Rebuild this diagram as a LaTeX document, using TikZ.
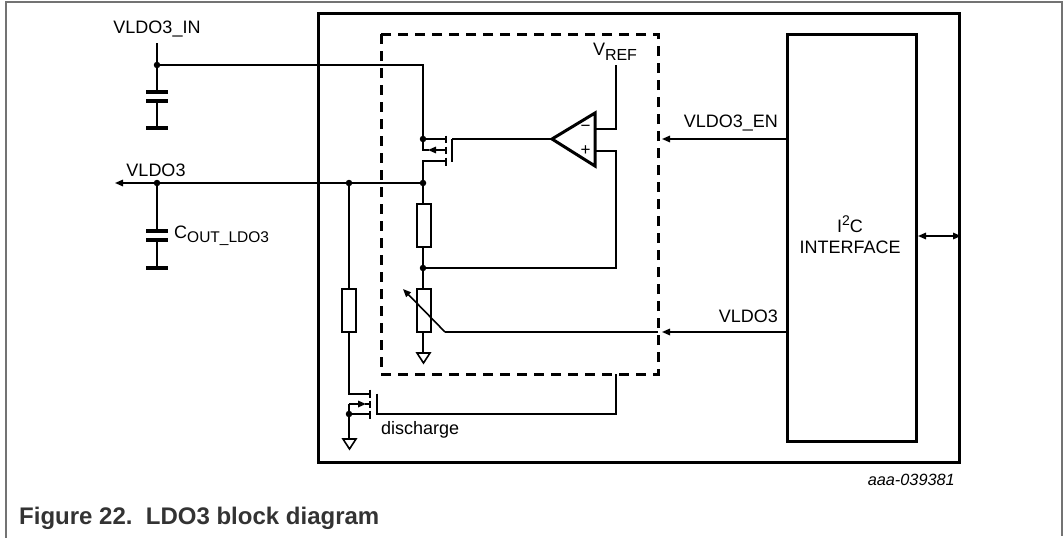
\documentclass[tikz,border=0pt]{standalone}
\usepackage{fontspec}
\setmainfont{Liberation Sans}
\usetikzlibrary{arrows.meta}
\begin{document}
\begin{tikzpicture}[x=1pt,y=-1pt,
  wire/.style={line width=1.6pt},
  tipw/.style={-{Triangle[length=8pt,width=6.5pt]}},
  plate/.style={line width=4pt},
  gbar/.style={line width=3.8pt},
  chip/.style={line width=3.5pt},
  blockbox/.style={line width=3pt},
  dashbox/.style={line width=3pt,dash pattern=on 10pt off 7pt},
  lbl/.style={font=\fontsize{18}{20}\selectfont,inner sep=0pt},
  dot/.style={circle,fill=black,inner sep=0pt,minimum size=6.5pt},
  gnd/.style={line width=1.6pt}
]
\useasboundingbox (0,0) rectangle (1063,538);
% outer page frame
\draw[line width=1.5pt,black!55] (6,538) -- (6,2) -- (1062,2) -- (1062,536);

% chip box and blocks
\node[chip,draw,minimum width=641pt,minimum height=449pt,anchor=north west,inner sep=0pt] (chipbox) at (316.5,11.5) {};
\node[blockbox,draw,minimum width=129pt,minimum height=407pt,anchor=north west,inner sep=0pt] (i2c) at (786,33) {};
\draw[dashbox] (381,34) rectangle (658,374);

\node[lbl] at (850,224) {I\raisebox{0.4em}{\fontsize{14}{14}\selectfont 2}C};
\node[lbl] at (850,247) {INTERFACE};

% coordinates
\coordinate (vinTop) at (157,43);
\coordinate (vinDot) at (157,65);
\coordinate (c1a) at (157,92);
\coordinate (c1b) at (157,101);
\coordinate (c1g) at (157,128);
\coordinate (pS) at (423,139);
\coordinate (pD) at (423,161);
\coordinate (outArrow) at (115,183);
\coordinate (outDot1) at (157,183);
\coordinate (outDot2) at (349,183);
\coordinate (outDot3) at (423,183);
\coordinate (fbDot) at (423,268);
\coordinate (nD) at (349,394);
\coordinate (nS) at (349,414);

% VLDO3_IN node
\node[lbl] (vinlbl) at (157,29) {VLDO3\_IN};
\draw[wire] (vinTop) -- (c1a);
\draw[wire] (c1b) -- (c1g);
\draw[plate] (146,92) -- (168,92);
\draw[plate] (146,101) -- (168,101);
\draw[gbar] (146,128) -- (168,128);
\draw[wire] (vinDot) -- (423,65) -- (pS);
\node[dot] at (vinDot) {};
\node[dot] at (pS) {};

% pass PMOS
\draw[wire] (pS) -- (446,139);
\draw[wire] (446,135.5) -- (446,143);
\draw[wire] (446,146.5) -- (446,154);
\draw[wire] (446,157.5) -- (446,166);
\draw[wire] (452,139) -- (452,162);
\draw[wire,tipw] (446,150) -- (428,150);
\draw[wire] (429,150) -- (423,150) -- (pS);
\draw[wire] (446,161) -- (pD) -- (outDot3);

% op amp
\draw[line width=3pt,line join=miter] (552,139) -- (595,113) -- (595,166) -- cycle;
\node[inner sep=0pt,font=\fontsize{17}{17}\selectfont] at (585.5,128) {−};
\node[inner sep=0pt,font=\fontsize{17}{17}\selectfont] at (585.5,151) {+};
\draw[wire] (452,139) -- (552,139);
\node[lbl] at (615,52) {V\raisebox{-0.3em}{\fontsize{16}{16}\selectfont REF}};
\draw[wire] (616,65) -- (616,129) -- (595,129);
\draw[wire] (595,151) -- (616,151) -- (616,268) -- (fbDot);

% VLDO3 output line
\draw[wire,tipw] (outDot3) -- (outArrow);
\node[lbl] at (156,170) {VLDO3};
\node[dot] at (outDot1) {};
\node[dot] at (outDot2) {};
\node[dot] at (outDot3) {};

% Cout
\draw[wire] (outDot1) -- (157,231);
\draw[wire] (157,240) -- (157,268);
\draw[plate] (146,231) -- (168,231);
\draw[plate] (146,240) -- (168,240);
\draw[gbar] (146,268) -- (168,268);
\node[lbl,anchor=west] at (174,236) {C\raisebox{-0.25em}{\fontsize{15.5}{15.5}\selectfont OUT\_LDO3}};

% divider
\draw[wire] (outDot3) -- (423,204);
\draw[wire,fill=white] (417,204) rectangle (431,247);
\draw[wire] (423,247) -- (fbDot);
\node[dot] at (fbDot) {};
\draw[wire] (fbDot) -- (423,289);
\draw[wire,fill=white] (417,289) rectangle (431,332);
\draw[wire] (423,332) -- (423,353);
\draw[gnd,line join=miter] (417,353) -- (430,353) -- (423.5,363) -- cycle;
\draw[wire,tipw] (445,332) -- (403,289);
\draw[wire] (445,332) -- (658,332);

% control arrows from I2C
\draw[wire,tipw] (i2c.west |- 0,139) -- (662,139);
\node[lbl,anchor=east] at (778,123) {VLDO3\_EN};
\draw[wire,tipw] (i2c.west |- 0,332) -- (662,332);
\node[lbl,anchor=east] at (778,316) {VLDO3};
\draw[wire,{Triangle[length=8pt,width=6.5pt]}-{Triangle[length=8pt,width=6.5pt]}] (i2c.east |- 0,236) -- (chipbox.east |- 0,236);

% discharge path
\draw[wire] (outDot2) -- (349,289);
\draw[wire,fill=white] (342,289) rectangle (356,332);
\draw[wire] (349,332) -- (nD) -- (370,394);
\draw[wire] (370,389.5) -- (370,398);
\draw[wire] (370,400.5) -- (370,408);
\draw[wire] (370,410.5) -- (370,419);
\draw[wire] (377,393.5) -- (377,414) -- (616,414) -- (616,374);
\draw[wire] (370,414) -- (nS);
\draw[wire,tipw] (349,404) -- (366,404);
\draw[wire] (365,404) -- (370,404);
\draw[wire] (349,404) -- (nS);
\node[dot] at (nS) {};
\draw[wire] (nS) -- (349,439);
\draw[gnd,line join=miter] (343,439) -- (356,439) -- (349.5,449) -- cycle;
\node[lbl,anchor=west] at (381,430) {discharge};

% id and caption
\node[inner sep=0pt,anchor=east,font=\fontsize{16.3}{18}\selectfont\itshape] at (955,480) {aaa-039381};
\node[inner sep=0pt,anchor=west,font=\fontsize{24}{26}\selectfont\bfseries,text=black!80] at (19,518) {Figure 22.\ \ LDO3 block diagram};
\end{tikzpicture}
\end{document}
